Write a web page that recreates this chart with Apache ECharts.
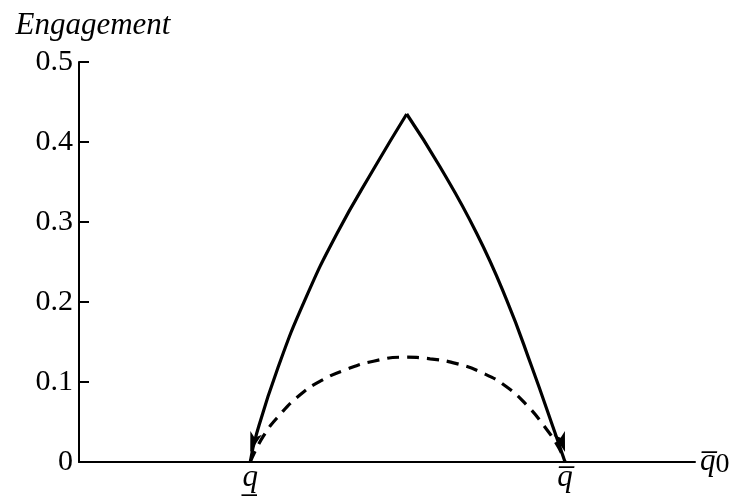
<!DOCTYPE html>
<html>
<head>
<meta charset="utf-8">
<script src="https://cdn.jsdelivr.net/npm/echarts@6/dist/echarts.min.js"></script>
<style>
  html, body { margin: 0; padding: 0; background: #fff; }
  #chart { width: 736px; height: 504px; }
</style>
</head>
<body>
<div id="chart"></div>
<script>
// threshold positions on the horizontal axis
const qLow = 27.8
const qHigh = 78.9

// solid curve, left branch (foot -> peak) and right branch (peak -> foot)
const leftX = [27.8, 28.85, 32.35, 36.7, 41.9, 48.05, 53.2]
const leftY = [0, 0.036, 0.119, 0.203, 0.286, 0.369, 0.435]
const rightX = [53.2, 58.6, 64.55, 69.4, 73.5, 77.3, 78.9]
const rightY = [0.435, 0.369, 0.286, 0.203, 0.119, 0.036, 0]

// dashed curve
const dashX = [27.8, 29.9, 32.6, 35.9, 39.4, 43.5, 47.8, 52.7, 57.0, 61.3, 65.6, 69.4, 72.7, 75.4, 77.8, 78.9]
const dashY = [0, 0.032, 0.059, 0.084, 0.102, 0.116, 0.126, 0.131, 0.129, 0.123, 0.111, 0.094, 0.071, 0.046, 0.019, 0]

const yTicks = [0, 0.1, 0.2, 0.3, 0.4, 0.5]

const font = 'Liberation Serif'

// arrow head on one end of a branch
function buildData(xs, ys, arrowAt, rotate) {
  return xs.map(function (x, i) {
    const item = { value: [x, ys[i]] }
    if (i === arrowAt) {
      item.symbol = 'arrow'
      item.symbolSize = [9, 20]
      item.symbolRotate = rotate
      item.symbolOffset = [0, '-50%']
    }
    return item
  })
}

const solidStyle = {
  type: 'line',
  smooth: 0.5,
  symbol: 'none',
  showSymbol: true,
  itemStyle: { color: '#000' },
  lineStyle: { color: '#000', width: 3.2 }
}

const myChart = echarts.init(document.getElementById('chart'))
const option = {
  animation: false,
  grid: { left: 79, right: 41, top: 62, bottom: 42 },
  xAxis: {
    type: 'value',
    min: 0,
    max: 100,
    splitLine: { show: false },
    axisTick: { show: false },
    axisLine: { lineStyle: { color: '#000', width: 2 } },
    name: '{i|q\u0305}{s|0}',
    nameLocation: 'end',
    nameGap: 5,
    nameTextStyle: {
      rich: {
        i: { fontFamily: font, fontStyle: 'italic', fontSize: 31, color: '#000' },
        s: { fontFamily: font, fontSize: 28, color: '#000', padding: [6, 0, 0, 0] }
      }
    },
    axisLabel: {
      customValues: [qLow, qHigh],
      fontFamily: font,
      fontStyle: 'italic',
      fontSize: 31,
      color: '#000',
      margin: 0,
      formatter: function (v) {
        return v === qLow ? 'q\u0332' : 'q\u0305'
      }
    }
  },
  yAxis: {
    type: 'value',
    min: 0,
    max: 0.5,
    interval: 0.1,
    splitLine: { show: false },
    axisLine: { lineStyle: { color: '#000', width: 2 } },
    axisTick: { inside: true, length: 10, lineStyle: { color: '#000', width: 2 } },
    axisLabel: {
      fontFamily: font,
      fontSize: 30,
      color: '#000',
      margin: 6,
      formatter: function (v) {
        const r = Math.round(v * 10) / 10
        return yTicks.indexOf(r) >= 0 ? String(r) : ''
      }
    },
    name: 'Engagement',
    nameLocation: 'end',
    nameGap: 21,
    nameTextStyle: {
      fontFamily: font, fontStyle: 'italic', fontSize: 31, color: '#000',
      align: 'center', padding: [0, 0, 0, 28]
    }
  },
  series: [
    {
      type: 'line',
      data: dashX.map(function (x, i) { return [x, dashY[i]] }),
      smooth: true,
      symbol: 'none',
      lineStyle: { color: '#000', width: 3.2, type: [12, 8] }
    },
    Object.assign({ data: buildData(leftX, leftY, 0, 163) }, solidStyle),
    Object.assign({ data: buildData(rightX, rightY, rightX.length - 1, 197) }, solidStyle)
  ]
}
myChart.setOption(option, true)
</script>
</body>
</html>
